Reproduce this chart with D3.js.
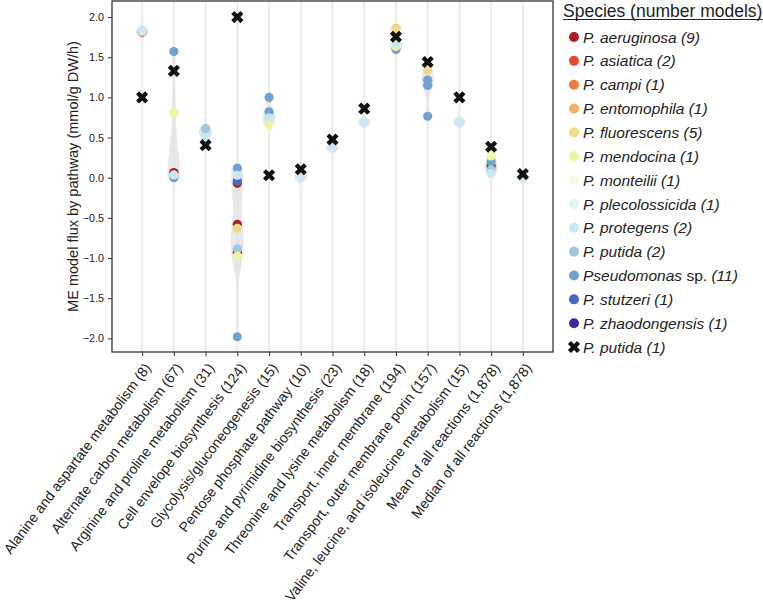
<!DOCTYPE html>
<html>
<head>
  <meta charset="utf-8">
  <title>ME model flux by pathway</title>
  <script src="https://cdn.jsdelivr.net/npm/d3@7"></script>
  <style>
    body { margin: 0; background: #fff; }
    svg { font-family: "Liberation Sans", Arial, sans-serif; }
  </style>
</head>
<body>
  <svg width="763" height="607"></svg>

  <script>
    // pathways (x categories)
    const pathways = [
      "Alanine and aspartate metabolism (8)",
      "Alternate carbon metabolism (67)",
      "Arginine and proline metabolism (31)",
      "Cell envelope biosynthesis (124)",
      "Glycolysis/gluconeogenesis (15)",
      "Pentose phosphate pathway (10)",
      "Purine and pyrimidine biosynthesis (23)",
      "Threonine and lysine metabolism (18)",
      "Transport, inner membrane (194)",
      "Transport, outer membrane porin (157)",
      "Valine, leucine, and isoleucine metabolism (15)",
      "Mean of all reactions (1,878)",
      "Median of all reactions (1,878)"
    ];

    const species = [
      "P. aeruginosa", "P. asiatica", "P. campi", "P. entomophila", "P. fluorescens",
      "P. mendocina", "P. monteilii", "P. plecolossicida", "P. protegens", "P. putida",
      "Pseudomonas sp.", "P. stutzeri", "P. zhaodongensis"
    ];
    const speciesCounts = [9, 2, 1, 1, 5, 1, 1, 1, 2, 2, 11, 1, 1];
    const speciesColors = [
      "#ad1f26", "#e24a2f", "#f27b42", "#f1b063", "#f3d98b", "#eef6a4", "#f8fbe2",
      "#e1f3f5", "#c9e8f1", "#9ecbe1", "#70a2d2", "#4b68c0", "#3b2a9c"
    ];

    // reference model, P. putida (1), drawn as X
    const refValues = [1.0, 1.33, 0.405, 2.0, 0.03, 0.105, 0.475, 0.86, 1.755, 1.44, 1.0, 0.385, 0.045];

    // visible species points per pathway: [species index, flux]
    const alaninePts   = [[0, 1.81], [4, 1.815], [9, 1.82], [8, 1.83]];
    const altCarbonPts = [[10, 0.0], [0, 0.065], [8, 0.035], [5, 0.81], [10, 1.57]];
    const argininePts  = [[8, 0.525], [9, 0.61]];
    const envelopePts  = [[0, -0.07], [11, -0.04], [10, 0.12], [8, 0.03], [0, -0.58], [4, -0.63],
                          [0, -0.93], [9, -0.885], [5, -0.975], [10, -1.98]];
    const glycolysisPts = [[10, 1.0], [10, 0.82], [8, 0.745], [5, 0.655]];
    const pentosePts   = [[5, 0.0], [8, 0.005]];
    const purinePts    = [[8, 0.375]];
    const threoninePts = [[8, 0.69]];
    const innerPts     = [[10, 1.595], [5, 1.635], [8, 1.67], [3, 1.86], [4, 1.85]];
    const outerPts     = [[10, 0.765], [10, 1.15], [10, 1.215], [4, 1.335]];
    const valinePts    = [[8, 0.69]];
    const meanPts      = [[0, 0.147], [10, 0.2], [5, 0.27], [9, 0.1], [8, 0.05]];
    const medianPts    = [[8, 0.0]];

    const pointsByPathway = [alaninePts, altCarbonPts, argininePts, envelopePts, glycolysisPts,
      pentosePts, purinePts, threoninePts, innerPts, outerPts, valinePts, meanPts, medianPts];

    const yTicks = [-2.0, -1.5, -1.0, -0.5, 0.0, 0.5, 1.0, 1.5, 2.0];

    const svg = d3.select("svg");
    const plot = { left: 112, top: 1, right: 553, bottom: 352 };

    const x = d3.scalePoint().domain(pathways).range([plot.left, plot.right]).padding(0.95);
    const y = d3.scaleLinear().domain([-2.17, 2.2]).range([plot.bottom, plot.top]);

    // vertical grid
    svg.append("g")
      .selectAll("line")
      .data(pathways)
      .join("line")
      .attr("x1", d => x(d)).attr("x2", d => x(d))
      .attr("y1", plot.top).attr("y2", plot.bottom)
      .attr("stroke", "#ececec").attr("stroke-width", 2.2);

    // violins (gaussian kde of the points, cut at the data range)
    function kde(vals) {
      const n = vals.length;
      const sd = n > 1 ? d3.deviation(vals) : 0;
      const bw = Math.max(0.6 * 1.06 * sd * Math.pow(n, -0.2), 0.05);
      let lo = d3.min(vals), hi = d3.max(vals);
      if (hi - lo < 0.12) { lo -= 0.07; hi += 0.07; }
      const grid = d3.range(0, 61).map(i => lo + (hi - lo) * i / 60);
      return grid.map(v => [v, d3.sum(vals, u => Math.exp(-0.5 * ((v - u) / bw) ** 2))]);
    }
    const violinG = svg.append("g");
    pointsByPathway.forEach((pts, i) => {
      const dens = kde(pts.map(p => p[1]));
      const maxD = d3.max(dens, d => d[1]);
      const minD = Math.min(dens[0][1], dens[dens.length - 1][1]);
      const w = d3.scaleLinear().domain([Math.min(minD, maxD * 0.2), maxD]).range([0.5, 6.5]).clamp(true);
      const area = d3.area()
        .curve(d3.curveBasis)
        .y(d => y(d[0]))
        .x0(d => x(pathways[i]) - w(d[1]))
        .x1(d => x(pathways[i]) + w(d[1]));
      violinG.append("path")
        .attr("d", area(dens))
        .attr("fill", "#e2e2e2").attr("fill-opacity", 0.8);
    });

    // species points
    const ptG = svg.append("g");
    pointsByPathway.forEach((pts, i) => {
      ptG.selectAll(null)
        .data(pts)
        .join("circle")
        .attr("cx", x(pathways[i]))
        .attr("cy", d => y(d[1]))
        .attr("r", 4.6)
        .attr("fill", d => speciesColors[d[0]]);
    });

    // reference X markers
    const xSym = d3.symbol().type(d3.symbolCross).size(92);
    svg.append("g")
      .selectAll("path")
      .data(refValues)
      .join("path")
      .attr("transform", (d, i) => `translate(${x(pathways[i])},${y(d)}) rotate(45)`)
      .attr("d", xSym)
      .attr("fill", "#111");

    // axes
    const yAxis = svg.append("g")
      .attr("transform", `translate(${plot.left},0)`)
      .call(d3.axisLeft(y).tickValues(yTicks).tickFormat(d3.format(".1f")).tickSize(4).tickPadding(4));
    yAxis.select(".domain").remove();
    yAxis.selectAll("text").attr("font-size", 10.8).attr("fill", "#222");
    yAxis.selectAll("line").attr("stroke", "#333");

    const xAxis = svg.append("g")
      .attr("transform", `translate(0,${plot.bottom})`)
      .call(d3.axisBottom(x).tickSize(4).tickFormat(""));
    xAxis.select(".domain").remove();
    xAxis.selectAll("line").attr("stroke", "#333");

    svg.append("rect")
      .attr("x", plot.left).attr("y", plot.top)
      .attr("width", plot.right - plot.left).attr("height", plot.bottom - plot.top)
      .attr("fill", "none").attr("stroke", "#333").attr("stroke-width", 1.3);

    // rotated category labels
    svg.append("g")
      .selectAll("text")
      .data(pathways)
      .join("text")
      .attr("transform", d => `translate(${x(d) + 9.5},${plot.bottom + 16}) rotate(-53)`)
      .attr("text-anchor", "end")
      .attr("font-size", 14.1)
      .attr("fill", "#222")
      .text(d => d);

    // y label
    svg.append("text")
      .attr("transform", `translate(78,${(plot.top + plot.bottom) / 2}) rotate(-90)`)
      .attr("text-anchor", "middle")
      .attr("font-size", 14.5)
      .attr("fill", "#222")
      .text("ME model flux by pathway (mmol/g DW/h)");

    // legend
    const leg = svg.append("g");
    const title = leg.append("text")
      .attr("x", 563).attr("y", 16.5)
      .attr("font-size", 17.5).attr("fill", "#222")
      .text("Species (number models)");
    const tw = title.node().getComputedTextLength();
    leg.append("line")
      .attr("x1", 563).attr("x2", 563 + tw)
      .attr("y1", 19.5).attr("y2", 19.5)
      .attr("stroke", "#222").attr("stroke-width", 1);

    const rowY = i => 37 + i * 23.85;
    species.forEach((s, i) => {
      leg.append("circle")
        .attr("cx", 574).attr("cy", rowY(i)).attr("r", 5)
        .attr("fill", speciesColors[i]);
      const t = leg.append("text")
        .attr("x", 583).attr("y", rowY(i)).attr("dy", "0.36em")
        .attr("font-size", 15.5).attr("fill", "#222");
      if (s.endsWith(" sp.")) {
        t.append("tspan").attr("font-style", "italic").text(s.replace(" sp.", ""));
        t.append("tspan").text(" sp. ");
        t.append("tspan").attr("font-style", "italic").text(`(${speciesCounts[i]})`);
      } else {
        t.append("tspan").attr("font-style", "italic").text(`${s} (${speciesCounts[i]})`);
      }
    });
    leg.append("path")
      .attr("transform", `translate(574,${rowY(13)}) rotate(45)`)
      .attr("d", xSym)
      .attr("fill", "#111");
    leg.append("text")
      .attr("x", 583).attr("y", rowY(13)).attr("dy", "0.36em")
      .attr("font-size", 15.5).attr("font-style", "italic").attr("fill", "#222")
      .text("P. putida (1)");
  </script>
</body>
</html>
